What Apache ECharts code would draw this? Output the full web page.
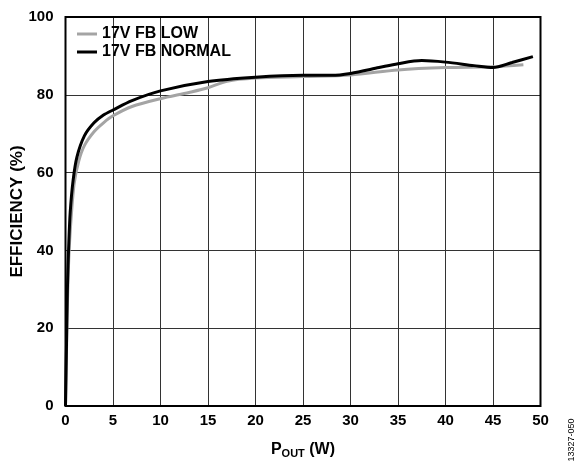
<!DOCTYPE html>
<html>
<head>
<meta charset="utf-8">
<script src="https://cdn.jsdelivr.net/npm/echarts@6/dist/echarts.min.js"></script>
<style>
  html, body { margin: 0; padding: 0; background: #fff; }
  #chart { width: 582px; height: 463px; }
</style>
</head>
<body>
<div id="chart"></div>
<script>
// 17V FB LOW (gray) : [P_OUT W, efficiency %]
const lowData = [
  [0, 0], [0.15, 20], [0.3, 35], [0.5, 45], [0.9, 57], [1.4, 63], [2, 67],
  [3, 70.5], [4, 72.8], [5, 74.6], [7, 77], [10, 79], [13, 80.6], [15, 81.8],
  [17, 83.5], [20, 84.3], [25, 84.7], [30, 85.1], [35, 86.4], [40, 87],
  [45, 87.2], [48.2, 87.7]
]
// 17V FB NORMAL (black)
const normalData = [
  [0, 0], [0.1, 15], [0.2, 30], [0.35, 42], [0.5, 50], [0.8, 58], [1.2, 64],
  [2, 69.5], [3, 72.8], [4, 74.8], [5, 76.1], [7, 78.5], [10, 81], [15, 83.4],
  [20, 84.5], [25, 85], [28, 85], [30, 85.5], [33, 87], [35, 88], [37.5, 88.8],
  [40, 88.4], [43, 87.5], [45, 87], [47, 88.3], [49.2, 89.8]
]
const seriesNames = ['17V FB LOW', '17V FB NORMAL']

const myChart = echarts.init(document.getElementById('chart'))
const labelFont = { fontFamily: 'Liberation Sans, Arial, sans-serif', fontWeight: 'bold', fontSize: 15, color: '#000' }

const option = {
  animation: false,
  grid: { left: 65.5, right: 41.5, top: 17, bottom: 57, containLabel: false, outerBoundsMode: 'none' },
  legend: {
    orient: 'vertical',
    left: 72,
    top: 21,
    itemWidth: 20,
    itemHeight: 3,
    itemGap: 2,
    icon: 'rect',
    textStyle: { ...labelFont, fontSize: 16, padding: [0, 0, 0, 0] },
    data: seriesNames
  },
  xAxis: {
    type: 'value',
    min: 0,
    max: 50,
    interval: 5,
    name: '{a|P}{b|OUT}{a| (W)}',
    nameLocation: 'middle',
    nameGap: 35,
    nameMoveOverlap: false,
    nameTextStyle: {
      rich: {
        a: { ...labelFont, fontSize: 16 },
        b: { ...labelFont, fontSize: 11, padding: [7, 0, 0, 0] }
      }
    },
    axisLine: { show: false },
    axisTick: { show: false },
    axisLabel: { ...labelFont, margin: 7 },
    splitLine: { show: true, lineStyle: { color: '#333', width: 1 } }
  },
  yAxis: {
    type: 'value',
    min: 0,
    max: 100,
    interval: 20,
    name: 'EFFICIENCY (%)',
    nameLocation: 'middle',
    nameGap: 40,
    nameMoveOverlap: false,
    nameTextStyle: { ...labelFont, fontSize: 17 },
    axisLine: { show: false },
    axisTick: { show: false },
    axisLabel: { ...labelFont, margin: 12 },
    splitLine: { show: true, lineStyle: { color: '#333', width: 1 } }
  },
  series: [
    {
      name: seriesNames[0],
      type: 'line',
      data: lowData,
      smooth: 0.3,
      showSymbol: false,
      itemStyle: { color: '#a4a4a4' },
      lineStyle: { color: '#a4a4a4', width: 3 },
      z: 3
    },
    {
      name: seriesNames[1],
      type: 'line',
      data: normalData,
      smooth: 0.3,
      showSymbol: false,
      itemStyle: { color: '#000' },
      lineStyle: { color: '#000', width: 3 },
      z: 4
    }
  ],
  graphic: [
    // plot frame
    {
      type: 'rect',
      shape: { x: 65.5, y: 17, width: 475, height: 389 },
      style: { fill: 'none', stroke: '#000', lineWidth: 2 },
      z: 10
    },
    {
      type: 'text',
      x: 572,
      y: 440,
      rotation: Math.PI / 2,
      style: {
        text: '13327-050',
        fontFamily: 'Liberation Sans, Arial, sans-serif',
        fontSize: 9,
        fill: '#000',
        align: 'center',
        verticalAlign: 'middle'
      }
    }
  ]
}

myChart.setOption(option)
</script>
</body>
</html>
